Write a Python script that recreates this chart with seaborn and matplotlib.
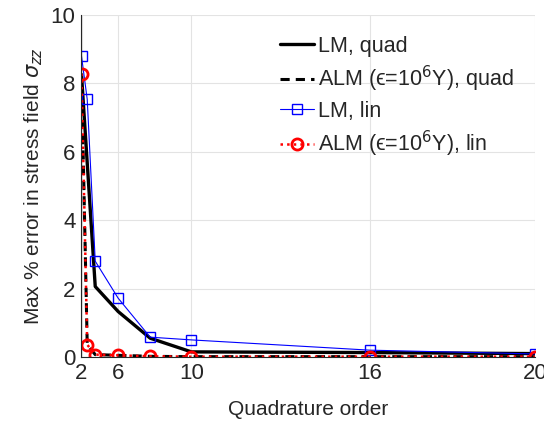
import numpy as np
import pandas as pd
import matplotlib
matplotlib.use("Agg")
import matplotlib.pyplot as plt
import seaborn as sns

# Data (quadrature order vs max % error)
order_lm_quad = [2, 4, 6, 8, 10, 16, 20]
err_lm_quad = [8.25, 2.06, 1.33, 0.55, 0.15, 0.13, 0.10]

order_alm_quad = [2, 3, 4, 6, 8, 10, 16, 20]
err_alm_quad = [8.27, 0.36, 0.07, 0.05, 0.02, 0.01, 0.01, 0.01]

order_lm_lin = [2, 3, 4, 6, 8, 10, 16, 20]
err_lm_lin = [8.79, 7.53, 2.80, 1.72, 0.58, 0.50, 0.20, 0.09]

order_alm_lin = [2, 3, 4, 6, 8, 10, 16, 20]
err_alm_lin = [8.28, 0.36, 0.07, 0.05, 0.02, 0.01, 0.01, 0.01]

xticks = [2, 6, 10, 16, 20]
yticks = [0, 2, 4, 6, 8, 10]

sns.set_style("whitegrid", {"grid.color": "#e3e3e3", "axes.edgecolor": "#262626"})
plt.rcParams['font.family'] = ['Liberation Sans', 'DejaVu Sans']
plt.rcParams['mathtext.fontset'] = 'dejavusans'

fig = plt.figure(figsize=(5.44, 4.23), dpi=100)
ax = fig.add_axes([0.149, 0.156, 0.834, 0.809])

sns.lineplot(x=order_lm_quad, y=err_lm_quad, ax=ax, color='black', lw=2.4,
             label='LM, quad')
sns.lineplot(x=order_alm_quad, y=err_alm_quad, ax=ax, color='black', lw=2.2,
             linestyle=(0, (3, 2)), label='ALM (\u03f5=10$^6$Y), quad')
sns.lineplot(x=order_lm_lin, y=err_lm_lin, ax=ax, color='#0000ff', lw=0.8,
             marker='s', markersize=7, markerfacecolor='none',
             markeredgecolor='#0000ff', markeredgewidth=1.0, label='LM, lin')
sns.lineplot(x=order_alm_lin, y=err_alm_lin, ax=ax, color='#ff0000', lw=1.8,
             linestyle=':', marker='o', markersize=8, markerfacecolor='none',
             markeredgecolor='#ff0000', markeredgewidth=2.0,
             label='ALM (\u03f5=10$^6$Y), lin')

ax.set_xscale('function', functions=(lambda v: np.sign(v) * v**2,
                                     lambda v: np.sqrt(np.abs(v))))
ax.set_xlim(1.9, 20)
ax.set_ylim(0, 10)
ax.set_xticks(xticks)
ax.set_xticklabels([str(t) for t in xticks])
ax.set_yticks(yticks)
ax.tick_params(axis='both', labelsize=16, colors='#262626', length=0, pad=4)
ax.set_xlabel('Quadrature order', fontsize=15, color='#262626', labelpad=12)
ax.set_ylabel(r'Max % error in stress field $\sigma_{zz}$', fontsize=15,
              color='#262626')
for s in ['top', 'right']:
    ax.spines[s].set_visible(False)
for s in ['left', 'bottom']:
    ax.spines[s].set_color('#262626')
    ax.spines[s].set_linewidth(0.8)

leg = ax.legend(loc='upper right', bbox_to_anchor=(0.995, 0.995), frameon=False,
                fontsize=15.5, handlelength=1.6, handletextpad=0.15,
                labelspacing=0.32)

fig.savefig('out.png', dpi=100)
